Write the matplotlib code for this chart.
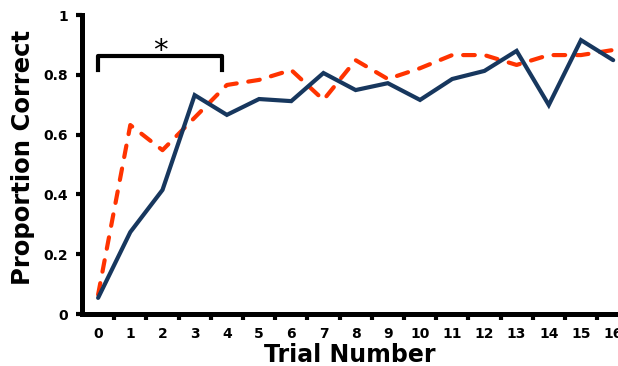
import matplotlib.pyplot as plt
import numpy as np
import matplotlib
from matplotlib.ticker import FixedLocator
matplotlib.rcParams['font.family'] = ['DejaVu Sans']

trials = np.arange(0, 17)
solid_group = [0.054, 0.274, 0.415, 0.732, 0.666, 0.719, 0.712, 0.806, 0.749,
               0.772, 0.716, 0.786, 0.813, 0.880, 0.699, 0.916, 0.849]
dashed_group = [0.065, 0.632, 0.548, 0.657, 0.766, 0.783, 0.816, 0.716, 0.849,
                0.786, 0.822, 0.866, 0.866, 0.833, 0.866, 0.866, 0.883]
y_ticks = [0, 0.2, 0.4, 0.6, 0.8, 1]
y_ticklabels = ["0", "0.2", "0.4", "0.6", "0.8", "1"]

navy = "#17375e"
orange_red = "#ff3300"

fig = plt.figure(figsize=(6.18, 3.66), dpi=100)
ax = fig.add_axes([0.1327, 0.142, 0.8673, 0.817])

ax.plot(trials, dashed_group, color=orange_red, lw=3.0, ls=(0, (2.8, 2.8)),
        dash_capstyle='round', solid_capstyle='round', zorder=2)
ax.plot(trials, solid_group, color=navy, lw=3.0, solid_joinstyle='miter',
        solid_capstyle='round', zorder=3)

# significance bracket over the first trials
bx0, bx1, btop, bleg = 0.0, 3.85, 0.863, 0.815
ax.plot([bx0, bx0, bx1, bx1], [bleg, btop, btop, bleg], color="black", lw=3.0,
        solid_joinstyle='round', clip_on=False)
ax.text((bx0 + bx1) / 2, btop - 0.03, "*", ha="center", va="bottom",
        fontsize=21, fontweight="normal")

ax.set_xlim(-0.5, 16.15)
ax.set_ylim(0, 1)
for side in ("top", "right"):
    ax.spines[side].set_visible(False)
for side in ("left", "bottom"):
    ax.spines[side].set_linewidth(3.6)

ax.set_xticks(trials)
ax.set_xticklabels([str(t) for t in trials])
ax.xaxis.set_minor_locator(FixedLocator(np.arange(0.5, 16, 1)))
ax.tick_params(axis="x", which="major", length=0, pad=9)
ax.tick_params(axis="x", which="minor", length=4, width=3, direction="out")
ax.set_yticks(y_ticks)
ax.set_yticklabels(y_ticklabels)
ax.tick_params(axis="y", length=4, width=3, direction="out", pad=6)
for lab in ax.get_xticklabels() + ax.get_yticklabels():
    lab.set_fontsize(10)
    lab.set_fontweight("bold")

ax.set_xlabel("Trial Number", fontsize=17, fontweight="bold", labelpad=2)
ax.set_ylabel("Proportion Correct", fontsize=17.5, fontweight="bold")
ax.yaxis.set_label_coords(-0.087, 0.525)

fig.savefig("out.png", dpi=100)
